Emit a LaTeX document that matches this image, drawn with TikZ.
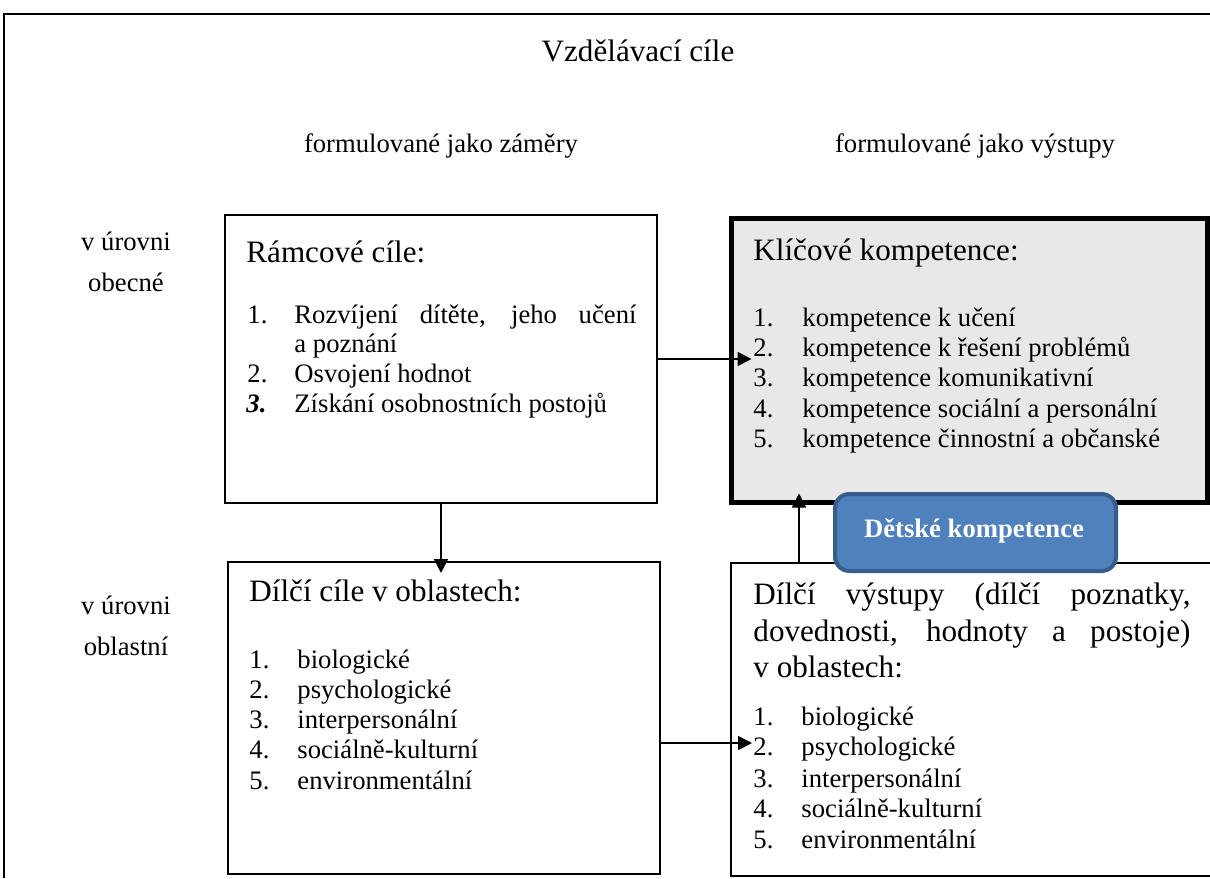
\documentclass[tikz,border=0pt]{standalone}
\usepackage{fontspec}
\setmainfont{Liberation Serif}
\usetikzlibrary{arrows.meta,calc,fit}
\definecolor{boxgray}{HTML}{E8E8E8}
\definecolor{kblue}{HTML}{4F81BD}
\definecolor{kborder}{HTML}{385D8A}
\begin{document}
\begin{tikzpicture}[x=0.45pt,y=-0.45pt,
  body/.style={inner sep=0pt, font=\fontsize{12}{14}\selectfont, anchor=base west},
  head/.style={inner sep=0pt, font=\fontsize{14}{16}\selectfont, anchor=base west},
  plainbox/.style={draw, line width=0.75pt, inner sep=0pt, outer sep=0pt},
  keybox/.style={draw, line width=2.2pt, fill=boxgray, inner sep=0pt, outer sep=0pt},
  bluebox/.style={draw=kborder, fill=kblue, line width=1.8pt, rounded corners=6.5pt, inner sep=0pt, outer sep=0pt},
  arr/.style={line width=0.75pt, -{Triangle[length=6.3pt,width=6.3pt]}},
]
\useasboundingbox (0,0) rectangle (1210,878);
% outer frame
\draw[line width=0.9pt] (4,878) -- (4,14) -- (1210,14);

% titles
\node[inner sep=0pt, font=\fontsize{14}{16}\selectfont, anchor=base] (title) at (638,62) {Vzdělávací cíle};
\node[body, anchor=base] (capL) at (441,153) {formulované jako záměry};
\node[body, anchor=base] (capR) at (975,153) {formulované jako výstupy};

% level labels
\node[body, anchor=base] (l1a) at (126,250) {v úrovni};
\node[body, anchor=base] (l1b) at (126,291) {obecné};
\node[body, anchor=base] (l2a) at (126,614) {v úrovni};
\node[body, anchor=base] (l2b) at (126,655) {oblastní};

% boxes
\node[plainbox, fit={(225,215) (657,503)}] (b1) {};
\node[keybox, fit={(731.5,218.5) (1207.5,502.5)}] (b2) {};
\node[plainbox, fit={(228,562) (660,874)}] (b3) {};
\node[plainbox, fit={(731,563) (1213,876)}] (b4) {};

% connectors
\coordinate (y3) at (0,743);
\draw[arr] (b1.east) -- ($(b1.east -| b2.west)+(20,0)$);
\draw[arr] (b1.south) -- ($(b1.south |- b3.north)+(0,11)$);
\draw[arr] (b3.east |- y3) -- ($(b4.west |- y3)+(21,0)$);
\draw[arr] ($(b4.north west)+(68,0)$) -- ($(b2.south west)+(67.5,-9)$);

% box 1 text
\node[head] (h1) at (246,262) {Rámcové cíle:};
\node[body] (n11) at (247,323) {1.};
\node[body] (i11) at (294,323) {\makebox[153.9pt][s]{Rozvíjení dítěte, jeho učení}};
\node[body] (i11b) at (294,352) {a poznání};
\node[body] (n12) at (247,382) {2.};
\node[body] (i12) at (294,382) {Osvojení hodnot};
\node[body] (n13) at (246,412) {\textbf{\textit{3.}}};
\node[body] (i13) at (294,412) {Získání osobnostních postojů};

% box 2 text
\node[head] (h2) at (753,260) {Klíčové kompetence:};
\node[body] (n21) at (753,326) {1.};
\node[body] (i21) at (802,326) {kompetence k učení};
\node[body] (n22) at (753,356) {2.};
\node[body] (i22) at (802,356) {kompetence k řešení problémů};
\node[body] (n23) at (753,386) {3.};
\node[body] (i23) at (802,386) {kompetence komunikativní};
\node[body] (n24) at (753,417) {4.};
\node[body] (i24) at (802,417) {kompetence sociální a personální};
\node[body] (n25) at (753,447) {5.};
\node[body] (i25) at (802,447) {kompetence činnostní a občanské};

% box 3 text
\node[head] (h3) at (249,601) {Dílčí cíle v oblastech:};
\node[body] (n31) at (249,668) {1.};
\node[body] (i31) at (297,668) {biologické};
\node[body] (n32) at (249,698) {2.};
\node[body] (i32) at (297,698) {psychologické};
\node[body] (n33) at (249,728) {3.};
\node[body] (i33) at (297,728) {interpersonální};
\node[body] (n34) at (249,758) {4.};
\node[body] (i34) at (297,758) {sociálně-kulturní};
\node[body] (n35) at (249,789) {5.};
\node[body] (i35) at (297,789) {environmentální};

% box 4 text
\node[head] (h4a) at (753,604) {\makebox[196.65pt][s]{Dílčí výstupy (dílčí poznatky,}};
\node[head] (h4b) at (753,641) {\makebox[196.65pt][s]{dovednosti, hodnoty a postoje)}};
\node[head] (h4c) at (753,677) {v oblastech:};
\node[body] (n41) at (753,725) {1.};
\node[body] (i41) at (801,725) {biologické};
\node[body] (n42) at (753,755) {2.};
\node[body] (i42) at (801,755) {psychologické};
\node[body] (n43) at (753,787) {3.};
\node[body] (i43) at (801,787) {interpersonální};
\node[body] (n44) at (753,817) {4.};
\node[body] (i44) at (801,817) {sociálně-kulturní};
\node[body] (n45) at (753,848) {5.};
\node[body] (i45) at (801,848) {environmentální};

% blue label box
\node[bluebox, fit={(835,494) (1116,571)}] (dk) {};
\node[inner sep=0pt, anchor=base, text=white, font=\bfseries\fontsize{12}{14}\selectfont] (dkt) at (974,537) {Dětské kompetence};
\end{tikzpicture}
\end{document}
